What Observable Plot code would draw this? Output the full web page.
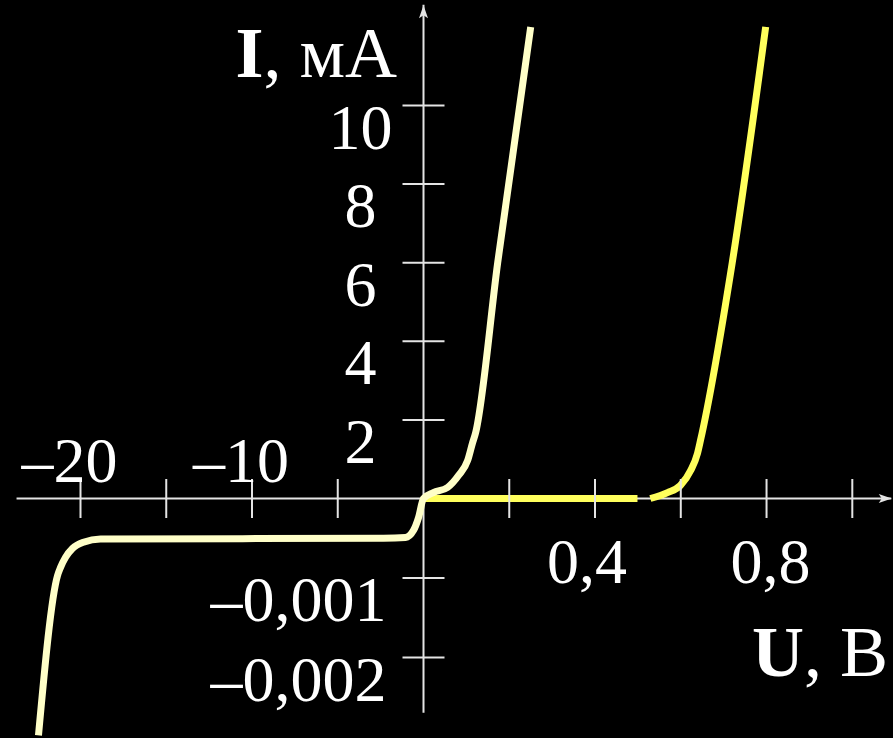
<!DOCTYPE html>
<html><head><meta charset="utf-8">
<script src="https://cdn.jsdelivr.net/npm/d3@7"></script>
<script src="https://cdn.jsdelivr.net/npm/@observablehq/plot@0.6"></script>
<style>html,body{margin:0;padding:0;background:#000;overflow:hidden}</style>
</head><body><div id="chart"></div>
<script>
// Pale curve (with reverse branch): voltage U (V), current I (mA)
const paleU = [-22.45, -21.34, -21.17, -20.87, -20.47, -19.83, -18.83, -2.33, -1.05, -0.58, -0.29, 0, 0.023, 0.056, 0.082, 0.103, 0.114, 0.121, 0.173, 0.25];
const paleI = [-0.00298, -0.00097, -0.00087, -0.00074, -0.00063, -0.00055, -0.00051, -0.0005, -0.00049, -0.0004, -0.00024, 0, 0.15, 0.28, 0.59, 0.97, 1.40, 1.65, 6.0, 12.0];
// Bright curve (forward branch only), two drawn pieces
const brightPiece = [0, 0, 1, 1, 1, 1, 1, 1, 1, 1];
const brightU = [0, 0.499, 0.529, 0.569, 0.599, 0.623, 0.639, 0.646, 0.72, 0.798];
const brightI = [0, 0, 0, 0.15, 0.33, 0.71, 1.15, 1.48, 6.0, 12.0];

// Ticks and labels
const xNegTicks = [-20, -15, -10, -5];
const xPosTicks = [0.2, 0.4, 0.6, 0.8, 1.0];
const xNegLabelVals = [-20, -10];
const xNegLabels = ["–20", "–10"];
const xPosLabelVals = [0.4, 0.8];
const xPosLabels = ["0,4", "0,8"];
const yPosTicks = [2, 4, 6, 8, 10];
const yPosLabels = ["2", "4", "6", "8", "10"];
const yNegTicks = [-0.001, -0.002];
const yNegLabels = ["–0,001", "–0,002"];
const xAxisExtent = [-23.7, 1.092];
const yAxisExtent = [-0.0027, 12.55];
const xTitle = ["U", ", В"];
const yTitle = ["I", ", мА"];

const axisColor = "#e4e4e4";
const paleColor = "#ffffc8";
const brightColor = "#ffff5c";
const font = "'Liberation Serif', 'Times New Roman', serif";

const pale = paleU.map((u, k) => ({u, i: paleI[k]}));
const bright = brightU.map((u, k) => ({u, i: brightI[k], piece: brightPiece[k]}));

// Split axes: negative side uses a different unit length
const xNegFactor = 17.15 / 428.8;   // 5 V on the left takes as much room as 0.2 V on the right
const yNegFactor = 79500 / 39.3;    // 0.001 mA below takes as much room as 2 mA above
const xSplit = (u) => u < 0 ? u * xNegFactor : u;
const ySplit = (i) => i < 0 ? i * yNegFactor : i;

const half = (size) => Math.sqrt(size / Math.PI);
const vTick = {draw(c, size) { const h = half(size); c.moveTo(0, -h); c.lineTo(0, h); }};
const hTick = {draw(c, size) { const h = half(size); c.moveTo(-h, 0); c.lineTo(h, 0); }};
const arrowRight = {draw(c) { c.moveTo(0, 0); c.lineTo(-13, -4.5); c.lineTo(-10, 0); c.lineTo(-13, 4.5); c.closePath(); }};
const arrowUp = {draw(c) { c.moveTo(0, 0); c.lineTo(-4.5, 13); c.lineTo(0, 10); c.lineTo(4.5, 13); c.closePath(); }};

const textStyle = {fill: "white", fontSize: 64, fontFamily: font, lineAnchor: "bottom"};

const x0 = 423, y0 = 498;
const chart = Plot.plot({
  width: 893,
  height: 738,
  margin: 0,
  style: {background: "black", overflow: "visible"},
  x: {axis: null, transform: xSplit, domain: [xSplit(-25), 1.1], range: [x0 - 25 * 17.15, x0 + 1.1 * 428.8]},
  y: {axis: null, transform: ySplit, domain: [ySplit(-0.003), 12], range: [y0 + 0.003 * 79500, y0 - 12 * 39.3]},
  marks: [
    Plot.ruleY([0], {x1: xAxisExtent[0], x2: xAxisExtent[1], stroke: axisColor, strokeWidth: 2}),
    Plot.ruleX([0], {y1: yAxisExtent[0], y2: yAxisExtent[1], stroke: axisColor, strokeWidth: 2}),
    Plot.line(bright, {x: "u", y: "i", z: "piece", stroke: brightColor, strokeWidth: 7, strokeLinecap: "butt", curve: "monotone-x"}),
    Plot.line(pale, {x: "u", y: "i", stroke: paleColor, strokeWidth: 7, strokeLinecap: "butt", curve: "monotone-x"}),
    Plot.dot([...xNegTicks, ...xPosTicks], {x: d => d, y: () => 0, symbol: vTick, r: 19.5, fill: "none", stroke: axisColor, strokeWidth: 2}),
    Plot.dot([...yPosTicks, ...yNegTicks], {x: () => 0, y: d => d, symbol: hTick, r: 21, fill: "none", stroke: axisColor, strokeWidth: 2}),
    Plot.dot([xAxisExtent[1]], {x: d => d, y: () => 0, symbol: arrowRight, r: 5, fill: axisColor, stroke: "none"}),
    Plot.dot([yAxisExtent[1]], {x: () => 0, y: d => d, symbol: arrowUp, r: 5, fill: axisColor, stroke: "none"}),
    Plot.text(yPosTicks, {x: () => 0, y: d => d, text: (d, k) => yPosLabels[k], dx: -63, dy: 43, textAnchor: "middle", ...textStyle}),
    Plot.text(yNegTicks, {x: () => 0, y: d => d, text: (d, k) => yNegLabels[k], dx: -37, dy: 43, textAnchor: "end", ...textStyle}),
    Plot.text(xNegLabelVals, {x: d => d, y: () => 0, text: (d, k) => xNegLabels[k], dx: 37, dy: -17, textAnchor: "end", ...textStyle}),
    Plot.text([xPosLabelVals[0]], {x: d => d, y: () => 0, text: () => xPosLabels[0], dx: -48, dy: 84, textAnchor: "start", ...textStyle}),
    Plot.text([xPosLabelVals[1]], {x: d => d, y: () => 0, text: () => xPosLabels[1], dx: -36, dy: 84, textAnchor: "start", ...textStyle})
  ]
});

const svg = d3.select(chart);
function title(parts, x, y) {
  const t = svg.append("text").attr("x", x).attr("y", y).attr("text-anchor", "end")
    .attr("font-family", font).attr("font-size", 72).attr("fill", "white");
  t.append("tspan").attr("font-weight", "bold").text(parts[0]);
  t.append("tspan").text(parts[1]);
}
title(yTitle, 397, 77);
title(xTitle, 888, 676);
document.getElementById("chart").appendChild(chart);
</script>
</body></html>
